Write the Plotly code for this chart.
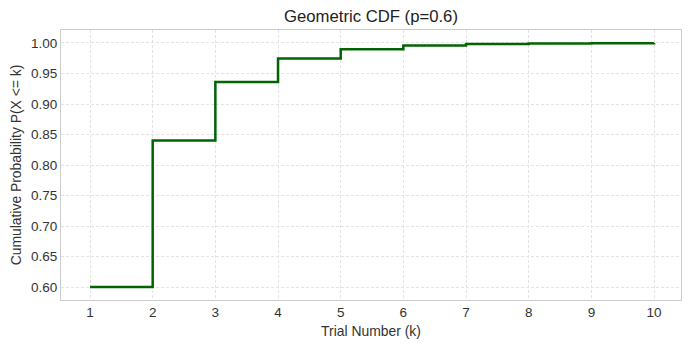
import plotly.graph_objects as go

# Geometric distribution CDF, p = 0.6: P(X <= k) = 1 - (1 - p)^k
trials = [1, 2, 3, 4, 5, 6, 7, 8, 9, 10]
cdf_values = [0.6, 0.84, 0.936, 0.9744, 0.98976, 0.995904, 0.9983616,
              0.99934464, 0.999737856, 0.9998951424]
y_ticks = [0.60, 0.65, 0.70, 0.75, 0.80, 0.85, 0.90, 0.95, 1.00]

fig = go.Figure()
fig.add_trace(go.Scatter(
    x=trials, y=cdf_values, mode="lines",
    line=dict(color="#006400", width=2.5, shape="hv"),
    showlegend=False,
))

grid = dict(showgrid=True, gridcolor="#e3e3e3", griddash="3px,2px", gridwidth=0.8,
            zeroline=False, showline=True, linecolor="#cccccc", linewidth=1.2,
            mirror=True, ticks="", tickfont=dict(size=13.5, color="#333333"))

fig.update_layout(
    width=691, height=348,
    margin=dict(l=61, r=10, t=30, b=48),
    paper_bgcolor="white", plot_bgcolor="white",
    font=dict(family="Liberation Sans, Arial, sans-serif", color="#333333"),
    title=dict(text="Geometric CDF (p=0.6)", x=0.5, xanchor="center",
               xref="paper", y=0.953, yanchor="middle",
               font=dict(size=16.7, color="#222222")),
    xaxis=dict(range=[0.537, 10.43], tickvals=trials,
               title=dict(text="Trial Number (k)", font=dict(size=13.9), standoff=6),
               **grid),
    yaxis=dict(range=[0.5787, 1.0213], tickvals=y_ticks, tickformat=".2f",
               title=dict(text="Cumulative Probability P(X <= k)", font=dict(size=13.9), standoff=6),
               **grid),
)

fig.write_html("out.html")
